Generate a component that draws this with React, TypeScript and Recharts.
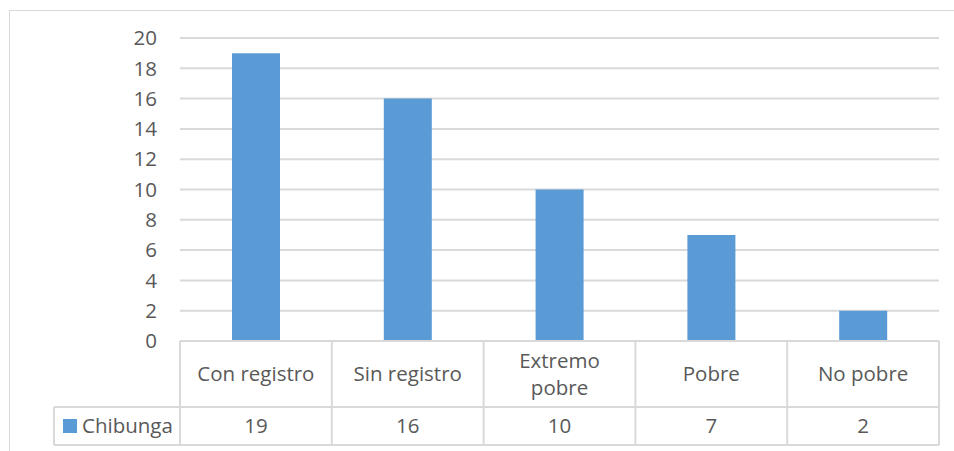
import React from "react";
import { BarChart, Bar, XAxis, YAxis, CartesianGrid } from "recharts";

const categories = ["Con registro", "Sin registro", "Extremo pobre", "Pobre", "No pobre"];
const values = [19, 16, 10, 7, 2];
const seriesName = "Chibunga";
const yTicks = [0, 2, 4, 6, 8, 10, 12, 14, 16, 18, 20];

const data = categories.map((name, i) => ({ name, value: values[i] }));

const W = 954;
const H = 451;
const PLOT_LEFT = 180;
const PLOT_RIGHT = 939;
const PLOT_TOP = 38;
const PLOT_BOTTOM = 341;
const BW = (PLOT_RIGHT - PLOT_LEFT) / categories.length;
const ROW1 = 66; // category row height
const ROW2 = 38; // value row height
const LEG_W = 126;
const LINE = "#D9D9D9";
const TXT = "#595959";
const FONT = "'Open Sans', sans-serif";
const FS = 20.5;

const TableTick = (props: any) => {
  const { x, y, payload } = props;
  const idx = payload.index;
  const label: string = payload.value;
  const left = x - BW / 2;
  const right = x + BW / 2;
  const yTop = y;
  const yMid = y + ROW1;
  const yBot = y + ROW1 + ROW2;
  const estW = label.length * FS * 0.55;
  const lines = estW > BW - 8 ? label.split(" ") : [label];
  const lh = 27;
  const c1 = yTop + ROW1 / 2;
  return (
    <g>
      <line x1={right} y1={yTop} x2={right} y2={yBot} stroke={LINE} strokeWidth={2} />
      {idx === 0 && <line x1={left} y1={yTop} x2={left} y2={yBot} stroke={LINE} strokeWidth={2} />}
      <line x1={left} y1={yMid} x2={right} y2={yMid} stroke={LINE} strokeWidth={2} />
      <line x1={left} y1={yBot} x2={right} y2={yBot} stroke={LINE} strokeWidth={2} />
      {lines.map((ln, i) => (
        <text
          key={i}
          x={x}
          y={c1 + (i - (lines.length - 1) / 2) * lh}
          dy="0.35em"
          textAnchor="middle"
          fill={TXT}
          fontSize={FS}
          fontFamily={FONT}
        >
          {ln}
        </text>
      ))}
      <text
        x={x}
        y={yMid + ROW2 / 2}
        dy="0.35em"
        textAnchor="middle"
        fill={TXT}
        fontSize={FS}
        fontFamily={FONT}
      >
        {values[idx]}
      </text>
      {idx === 0 && (
        <g>
          <line x1={left - LEG_W} y1={yMid} x2={left} y2={yMid} stroke={LINE} strokeWidth={2} />
          <line x1={left - LEG_W} y1={yBot} x2={left} y2={yBot} stroke={LINE} strokeWidth={2} />
          <line x1={left - LEG_W} y1={yMid} x2={left - LEG_W} y2={yBot} stroke={LINE} strokeWidth={2} />
          <rect x={left - LEG_W + 9} y={yMid + 12} width={14} height={14} fill="#5B9BD5" />
          <text
            x={left - LEG_W + 28}
            y={yMid + ROW2 / 2}
            dy="0.35em"
            fill={TXT}
            fontSize={FS}
            fontFamily={FONT}
          >
            {seriesName}
          </text>
        </g>
      )}
    </g>
  );
};

export default function App() {
  return (
    <div style={{ position: "absolute", left: 0, top: 0, width: W, height: H, background: "#fff", overflow: "hidden" }}>
      <div
        style={{
          position: "absolute",
          left: 9,
          top: 10,
          width: W - 9,
          height: H - 10,
          borderTop: `1px solid ${LINE}`,
          borderLeft: `1px solid ${LINE}`,
          boxSizing: "border-box",
        }}
      />
      <div style={{ position: "absolute", left: 0, top: 0 }}>
        <BarChart
          width={W}
          height={H}
          data={data}
          margin={{ top: PLOT_TOP, right: W - PLOT_RIGHT, left: PLOT_LEFT - 60, bottom: 0 }}
          barCategoryGap={0}
        >
          <CartesianGrid vertical={false} stroke={LINE} strokeWidth={2} />
          <YAxis
            width={60}
            domain={[0, 20]}
            ticks={yTicks}
            axisLine={false}
            tickLine={false}
            tickSize={0}
            tickMargin={23}
            interval={0}
            tick={{ fill: TXT, fontSize: FS, fontFamily: FONT }}
          />
          <XAxis
            dataKey="name"
            height={H - PLOT_BOTTOM}
            axisLine={{ stroke: LINE, strokeWidth: 2 }}
            tickLine={false}
            tickSize={0}
            tickMargin={0}
            interval={0}
            tick={<TableTick />}
          />
          <Bar dataKey="value" fill="#5B9BD5" barSize={48} isAnimationActive={false} />
        </BarChart>
      </div>
    </div>
  );
}
